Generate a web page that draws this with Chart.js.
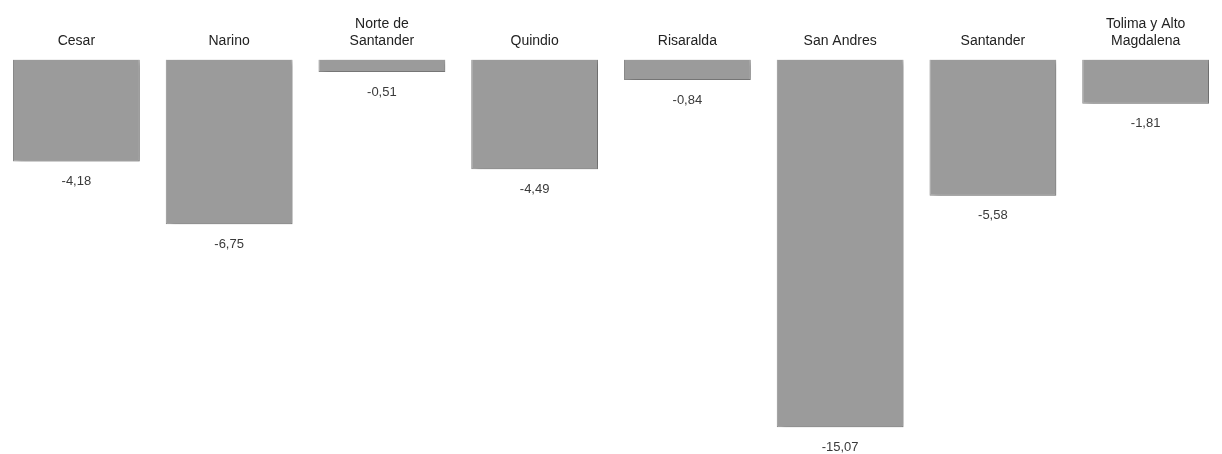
<!DOCTYPE html>
<html lang="es">
<head>
    <meta charset="UTF-8">
    <title>Variación por departamento</title>
    <script src="https://cdn.jsdelivr.net/npm/chart.js"></script>
    <style>
        html, body {
            margin: 0;
            padding: 0;
            background: #ffffff;
        }
        #wrap {
            width: 1222px;
            height: 454px;
        }
    </style>
</head>
<body>
    <div id="wrap"><canvas id="barChart"></canvas></div>

    <script>
        // departamentos (etiquetas en dos líneas donde el original las parte)
        const categories = [
            'Cesar',
            'Narino',
            ['Norte de', 'Santander'],
            'Quindio',
            'Risaralda',
            'San Andres',
            'Santander',
            ['Tolima y Alto', 'Magdalena']
        ];
        const values = [-4.18, -6.75, -0.51, -4.49, -0.84, -15.07, -5.58, -1.81];
        const valueLabels = ['-4,18', '-6,75', '-0,51', '-4,49', '-0,84', '-15,07', '-5,58', '-1,81'];

        // sombra suave a la derecha de cada barra, como en el original
        const shadowPlugin = {
            id: 'barShadow',
            beforeDatasetsDraw(chart) {
                const c = chart.ctx;
                c.save();
                c.shadowColor = 'rgba(0,0,0,0.22)';
                c.shadowBlur = 6;
                c.shadowOffsetX = 5;
                c.shadowOffsetY = 2;
            },
            afterDatasetsDraw(chart) {
                chart.ctx.restore();
            }
        };

        // valor debajo de cada barra
        const valuePlugin = {
            id: 'valueLabels',
            afterDatasetsDraw(chart) {
                const c = chart.ctx;
                const meta = chart.getDatasetMeta(0);
                c.save();
                c.font = '13px "Liberation Sans", Arial, sans-serif';
                c.fillStyle = '#3a3a3a';
                c.textAlign = 'center';
                c.textBaseline = 'middle';
                meta.data.forEach((bar, i) => {
                    c.fillText(valueLabels[i], bar.x, bar.y + 20);
                });
                c.restore();
            }
        };

        const ctx = document.getElementById('barChart').getContext('2d');
        new Chart(ctx, {
            type: 'bar',
            data: {
                labels: categories,
                datasets: [{
                    data: values,
                    backgroundColor: '#9b9b9b',
                    borderColor: '#8a8a8a',
                    borderWidth: 1,
                    barPercentage: 0.83,
                    categoryPercentage: 1.0
                }]
            },
            options: {
                responsive: true,
                maintainAspectRatio: false,
                animation: false,
                layout: {
                    padding: { top: 6, left: 0, right: 0, bottom: 4 }
                },
                plugins: {
                    legend: { display: false },
                    tooltip: { enabled: false }
                },
                scales: {
                    x: {
                        position: 'top',
                        grid: { display: false, drawTicks: false },
                        border: { display: false },
                        ticks: {
                            color: '#222222',
                            padding: 10,
                            maxRotation: 0,
                            autoSkip: false,
                            font: { family: '"Liberation Sans", Arial, sans-serif', size: 14 }
                        }
                    },
                    y: {
                        display: false,
                        min: -16,
                        max: 0
                    }
                }
            },
            plugins: [shadowPlugin, valuePlugin]
        });
    </script>
</body>
</html>
